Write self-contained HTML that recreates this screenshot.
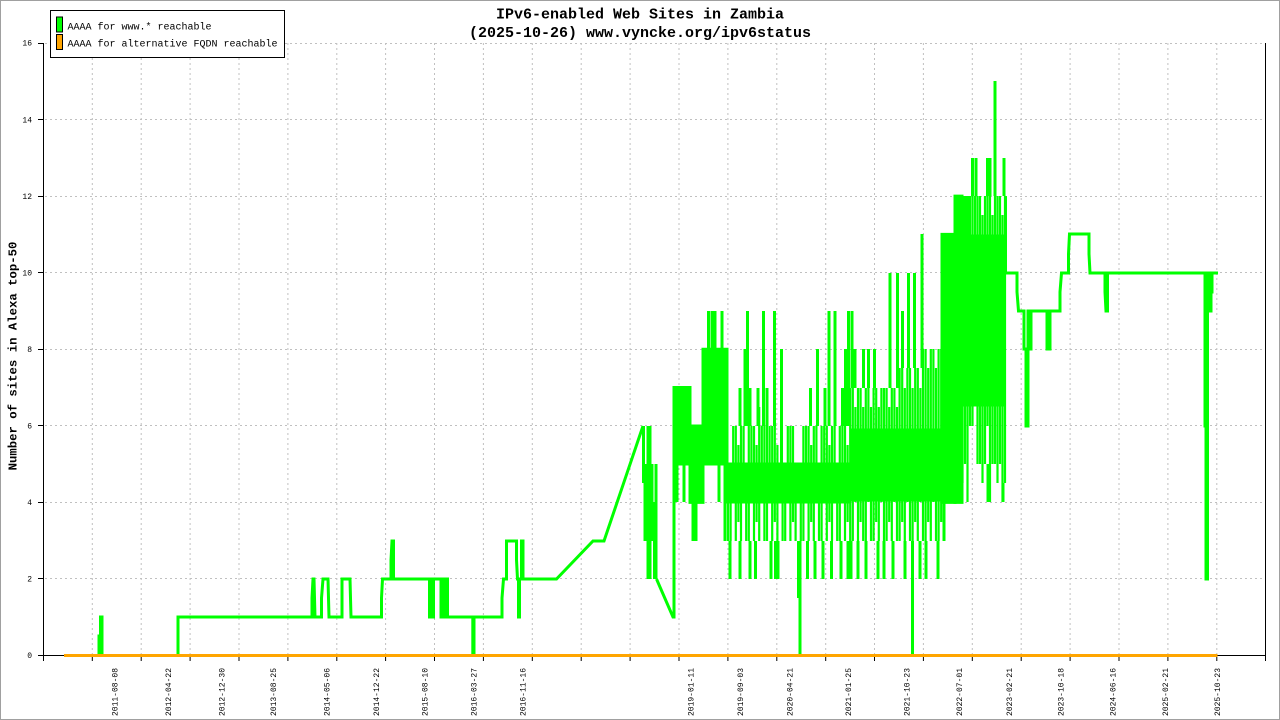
<!DOCTYPE html>
<html>
<head>
<meta charset="utf-8">
<style>
html,body{margin:0;padding:0;background:#fff;}
svg{display:block;}
.mono{font-family:"Liberation Mono","DejaVu Sans Mono",monospace;}
</style>
</head>
<body>
<svg width="1280" height="720" viewBox="0 0 1280 720" xmlns="http://www.w3.org/2000/svg">
<rect x="0" y="0" width="1280" height="720" fill="#fff"/>
<rect x="0.5" y="0.5" width="1279" height="719" fill="none" stroke="#a0a0a0" stroke-width="1"/>

<!-- grid -->
<g stroke="#c0c0c0" stroke-width="1" stroke-dasharray="2,3" fill="none">
<path d="M45 578.5H1265M45 502.5H1265M45 425.5H1265M45 349.5H1265M45 272.5H1265M45 196.5H1265M45 119.5H1265M45 43.5H1265"/>
<path d="M92.3 43V655M141.2 43V655M190.1 43V655M239 43V655M287.9 43V655M336.8 43V655M385.6 43V655M434.5 43V655M483.4 43V655M532.3 43V655M581.2 43V655M630.1 43V655M679 43V655M727.9 43V655M776.8 43V655M825.7 43V655M874.5 43V655M923.4 43V655M972.3 43V655M1021.2 43V655M1070.1 43V655M1119 43V655M1167.9 43V655M1216.8 43V655"/>
</g>

<!-- axes -->
<g stroke="#000" stroke-width="1" fill="none">
<path d="M43.5 43V661"/>
<path d="M38 655.5H1265.5"/>
<path d="M1265.5 43V661"/>
<path d="M38 578.5H43M38 502.5H43M38 425.5H43M38 349.5H43M38 272.5H43M38 196.5H43M38 119.5H43M38 43.5H43"/>
<path d="M92.3 655V661M141.2 655V661M190.1 655V661M239 655V661M287.9 655V661M336.8 655V661M385.6 655V661M434.5 655V661M483.4 655V661M532.3 655V661M581.2 655V661M630.1 655V661M679 655V661M727.9 655V661M776.8 655V661M825.7 655V661M874.5 655V661M923.4 655V661M972.3 655V661M1021.2 655V661M1070.1 655V661M1119 655V661M1167.9 655V661M1216.8 655V661"/>
</g>

<!-- y tick labels -->
<g class="mono" font-size="8" fill="#000" text-anchor="end">
<text x="32" y="658.2">0</text>
<text x="32" y="581.6">2</text>
<text x="32" y="505.1">4</text>
<text x="32" y="428.5">6</text>
<text x="32" y="352">8</text>
<text x="32" y="275.4">10</text>
<text x="32" y="198.8">12</text>
<text x="32" y="122.3">14</text>
<text x="32" y="45.7">16</text>
</g>

<!-- x tick labels -->
<g class="mono" font-size="8" fill="#000" text-anchor="end">
<text transform="translate(117.3,668) rotate(-90)">2011-08-08</text>
<text transform="translate(170.8,668) rotate(-90)">2012-04-22</text>
<text transform="translate(224.3,668) rotate(-90)">2012-12-30</text>
<text transform="translate(275.8,668) rotate(-90)">2013-08-25</text>
<text transform="translate(329.3,668) rotate(-90)">2014-05-06</text>
<text transform="translate(378.8,668) rotate(-90)">2014-12-22</text>
<text transform="translate(427.3,668) rotate(-90)">2015-08-10</text>
<text transform="translate(476.3,668) rotate(-90)">2016-03-27</text>
<text transform="translate(525.3,668) rotate(-90)">2016-11-16</text>
<text transform="translate(693.3,668) rotate(-90)">2019-01-11</text>
<text transform="translate(742.8,668) rotate(-90)">2019-09-03</text>
<text transform="translate(792.3,668) rotate(-90)">2020-04-21</text>
<text transform="translate(850.8,668) rotate(-90)">2021-01-25</text>
<text transform="translate(909.3,668) rotate(-90)">2021-10-23</text>
<text transform="translate(961.8,668) rotate(-90)">2022-07-01</text>
<text transform="translate(1011.8,668) rotate(-90)">2023-02-21</text>
<text transform="translate(1063.3,668) rotate(-90)">2023-10-18</text>
<text transform="translate(1115.3,668) rotate(-90)">2024-06-16</text>
<text transform="translate(1167.8,668) rotate(-90)">2025-02-21</text>
<text transform="translate(1219.8,668) rotate(-90)">2025-10-23</text>
</g>

<!-- y axis title -->
<text class="mono" font-size="12.3" font-weight="bold" fill="#000" text-anchor="middle" transform="translate(16.5,356) rotate(-90)">Number of sites in Alexa top-50</text>

<!-- title -->
<g class="mono" font-size="15" font-weight="bold" fill="#000" text-anchor="middle">
<text x="640" y="18.5">IPv6-enabled Web Sites in Zambia</text>
<text x="640" y="37">(2025-10-26) www.vyncke.org/ipv6status</text>
</g>

<!-- green series -->
<g stroke="#00ff00" stroke-width="3" fill="none" stroke-linejoin="miter" stroke-linecap="butt">
<path d="M64,655.5 H99 V636 H100.5 V617 H102 V655.5 H178 V617 H312 V598 L313,579 H314 L315,617 H321.5 V598 L323,579 H328 L329,617 H342 V579 H350 L351,617 H381.5 V598 L382.5,579 H391 V560 L392,541 H393.5 V579 H429.5 V617 H431 V579 H432 V617 H433.5 V579 H441 V617 H442.5 V579 H444 V617 H446 V579 H447.5 V617 H472.8 V653 H474 V617 H502 V598 L503.5,579 H506.5 V541 H516.5 V560 L517.5,579 H518.5 V617 H519.5 V579 H521.5 V541 H523 V579 H556.5 L593,541 H604 L643,426"/>
<path d="M643.5 426V483M645 464V541M648 426V579M650 426V579M652 464V541M654.5 502V579M656 464V579"/>
<path d="M656.5,579 L673,617 H674 V388"/>
<path d="M1005,273 H1017 V292 L1018.5,311 H1024 V349 H1026 V426 H1028 V311 H1029.5 V349 H1031 V311 H1047 V349 H1050 V311 H1060 V292 L1061.5,273 H1068.5 V254 L1069.5,234 H1089 V254 L1090,273 H1105 V292 L1106,311 H1107.5 V273 H1205 V426 H1206 V579 H1207.5 V273 H1209.5 V311 H1211 V292 H1212 V273 H1218"/>
</g>
<!-- solid cores -->
<g stroke="#00ff00" stroke-width="3" fill="#00ff00" stroke-linejoin="miter">
<path d="M674 387.5H690V464H674Z"/>
<path d="M690 426H703V502.4H690Z"/>
<path d="M703 349.3H727V464H703Z"/>
<path d="M728 464H849V502H728Z"/>
<path d="M851 430H941V500H851Z"/>
<path d="M942 234.4H955V502.4H942Z"/>
<path d="M955 196.1H962V502.4H955Z"/>
<path d="M963 236H1004V405H963Z"/>
</g>
<!-- dense columns -->
<g stroke="#00ff00" stroke-width="2.2" fill="none">
<path d="M728 464V541M730.6 464V541M733.2 426V502M735.8 426V541M738.4 445V522M741 426V541M743.6 426V502M746.2 464V541M748.8 426V541M751.4 426V502M754 426V541M756.6 445V522M759.2 407V541M761.8 426V502M764.4 426V541M767 407V541M769.6 426V502M772.2 426V541M774.8 426V522M777.4 445V541M780 464V502M782.6 464V541M785.2 464V541M787.8 426V502M790.4 426V541M793 426V522M795.6 464V541M798.2 464V502M800.8 464V541M803.4 426V541M806 426V502M808.6 426V541M811.2 445V522M813.8 426V541M816.4 426V502M819 464V541M821.6 426V541M824.2 426V502M826.8 426V541M829.4 445V522M832 426V541M834.6 426V502M837.2 464V541M839.8 426V541M842.4 426V502M845 426V541M847.6 445V522"/>
<path d="M850.2 388V541M852.8 388V541M855.4 407V502M858 388V541M860.6 388V522M863.2 407V541M865.8 388V541M868.4 388V502M871 407V541M873.6 388V541M876.2 388V522M878.8 407V541M881.4 388V502M884 388V541M886.6 388V541M889.2 407V522M891.8 388V541M894.4 388V502M897 407V541M899.6 368V541M902.2 368V522M904.8 388V541M907.4 368V502M910 368V541M912.6 388V541M915.2 368V522M917.8 368V541M920.4 388V502M923 349V541M925.6 349V541M928.2 368V522M930.8 349V541M933.4 349V502M936 368V541M938.6 349V541M941.2 349V522"/>
<path d="M962.5 273V483M965 196V464M967.5 273V502M970 196V426M972.5 196V426M975 196V311M977.5 196V464M980 196V464M982.5 215V483M985 196V464M987.5 196V426M990 196V502M992.5 215V464M995 196V464M997.5 196V483M1000 196V464M1002.5 215V502M1005 196V483"/>
</g>
<!-- spikes / dips -->
<g stroke="#00ff00" stroke-width="3" fill="none">
<path d="M677 502V464M684 502V464M693 541V502M696 541V502M708.5 349V311M712 349V311M715 349V311M722 349V311M719 502V464M725 541V464M730 579V541M740 579V541M740 426V388M745 426V349M747.5 426V311M750 426V388M750 579V541M755.5 579V541M758 426V388M763.5 426V311M767 426V388M771 579V541M774.5 426V311M775.5 579V541M778 579V541M781.5 464V349M800 655V541M798.5 598V541M807.5 579V541M810.5 426V388M815 579V541M817.5 426V349M823 579V541M825 426V388M829 426V311M831.5 579V541M835 426V311M841 579V541M842.5 426V388M845.5 426V349M848.5 426V311M848 579V541"/>
<path d="M852 388V311M855 388V349M863.5 388V349M868.5 388V349M874.5 388V349M890 388V273M897.5 388V273M902.5 368V311M908.5 368V273M914.5 368V273M922 368V234"/>
<path d="M851 579V541M858 579V541M866 579V541M878 579V541M884 579V541M893 579V541M905 579V541M912.5 655V541M920 579V541M926 579V541M938 579V541M944 541V502"/>
<path d="M964.5 273V196M967.5 273V196M972.5 196V158M976 196V158M987.5 196V158M990 196V158M988 502V464M995 196V81M1004 196V158M1003 502V483M1005.5 273V196"/>
</g>

<!-- orange series -->
<path d="M64 655.5H1217.5" stroke="#ffa500" stroke-width="3" fill="none"/>

<!-- legend -->
<rect x="50.5" y="10.5" width="234" height="47" fill="#fff" stroke="#000" stroke-width="1"/>
<rect x="56.5" y="17" width="6" height="15" fill="#00ff00" stroke="#000" stroke-width="1"/>
<rect x="56.5" y="34.5" width="6" height="15" fill="#ffa500" stroke="#000" stroke-width="1"/>
<g class="mono" font-size="10" fill="#000">
<text x="67.5" y="29.5">AAAA for www.* reachable</text>
<text x="67.5" y="46.5">AAAA for alternative FQDN reachable</text>
</g>
</svg>
</body>
</html>
